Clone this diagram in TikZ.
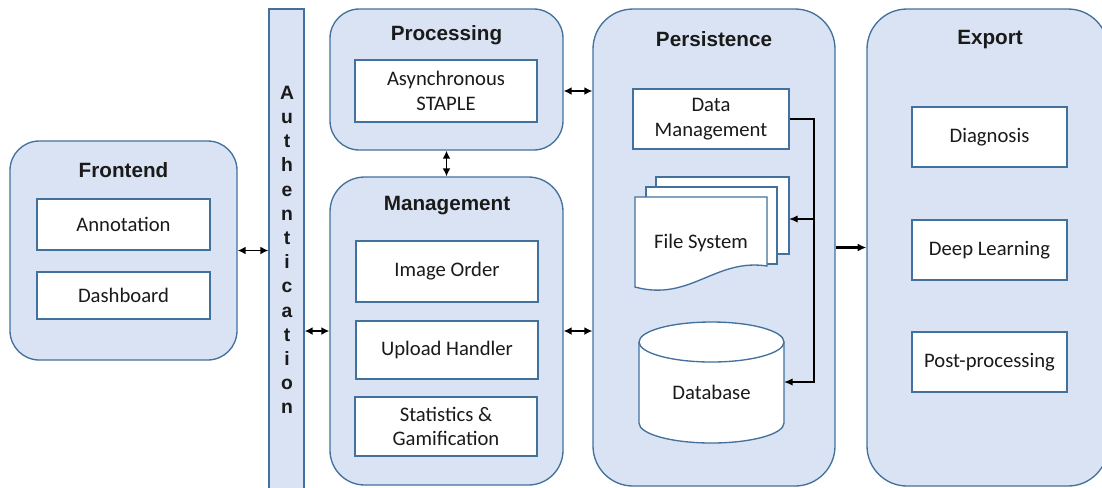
\documentclass[tikz,border=0pt]{standalone}
\usepackage{fontspec}
\setmainfont{Carlito}
\newfontfamily\titlefont{Liberation Sans}
\usetikzlibrary{arrows.meta,fit}
\definecolor{panelfill}{HTML}{DAE3F3}
\definecolor{edge}{HTML}{41719C}
\definecolor{ink}{HTML}{1A1A1A}
\begin{document}
\begin{tikzpicture}[x=0.75pt,y=-0.75pt,
 panel/.style={draw=edge, fill=panelfill, line width=1pt, inner sep=0pt},
 box/.style={draw=edge, fill=white, line width=1pt, inner sep=0pt, text=ink,
   font=\fontsize{15.5}{18.5}\selectfont, align=center},
 plain/.style={text=ink, font=\fontsize{15.5}{18.5}\selectfont, align=center},
 title/.style={text=ink, font=\titlefont\bfseries\fontsize{15.5}{18}\selectfont},
 link/.style={line width=1.3pt, {Latex[length=6pt,width=6pt]}-{Latex[length=6pt,width=6pt]}},
 push/.style={line width=1.7pt, -{Latex[length=6.5pt,width=6pt]}},
 feed/.style={line width=1pt, -{Latex[length=6.5pt,width=5.5pt]}}
]
\useasboundingbox (0,0) rectangle (1102,487);
\clip (0,0) rectangle (1102,487);

% containers
\node[panel, rounded corners=22pt, fit={(10,141) (237,360)}] (front) {};
\node[panel, fit={(269,9) (304,495)}] (auth) {};
\node[panel, rounded corners=22pt, fit={(330,9) (563,150)}] (proc) {};
\node[panel, rounded corners=26pt, fit={(330,177) (563,485)}] (mgmt) {};
\node[panel, rounded corners=30pt, fit={(593,9) (835,486)}] (persist) {};
\node[panel, rounded corners=30pt, fit={(867,9) (1108,486)}] (export) {};

% titles
\node[title] (tfront) at (123.5,170) {Frontend};
\node[title] (tproc) at (446.5,35) {Processing};
\node[title] (tmgmt) at (447,206) {Management};
\node[title] (tpersist) at (714,39) {Persistence};
\node[title] (texport) at (990,40) {Export};
\node[text=ink, font=\titlefont\bfseries\fontsize{14.5}{18.15}\selectfont, align=center]
  (authtext) at (287,250) {A\\u\\t\\h\\e\\n\\t\\i\\c\\a\\t\\i\\o\\n};

% inner boxes
\node[box, minimum width=173*0.75pt, minimum height=51*0.75pt] (annot) at (123.5,224.5) {Annotation};
\node[box, minimum width=173*0.75pt, minimum height=47*0.75pt] (dash) at (123.5,295.5) {Dashboard};
\node[box, minimum width=182*0.75pt, minimum height=62*0.75pt] (staple) at (446,91) {Asynchronous\\STAPLE};
\node[box, minimum width=182*0.75pt, minimum height=61*0.75pt] (order) at (447,271.5) {Image Order};
\node[box, minimum width=182*0.75pt, minimum height=58*0.75pt] (upload) at (447,350) {Upload Handler};
\node[box, minimum width=182*0.75pt, minimum height=59*0.75pt] (stats) at (446,426.5) {Statistics \&\\Gamification};
\node[box, minimum width=156*0.75pt, minimum height=60*0.75pt] (dm) at (711,119) {Data\\Management};
\node[box, minimum width=155*0.75pt, minimum height=60*0.75pt] (diag) at (989.5,137) {Diagnosis};
\node[box, minimum width=155*0.75pt, minimum height=60*0.75pt] (deep) at (989.5,250) {Deep Learning};
\node[box, minimum width=155*0.75pt, minimum height=60*0.75pt] (post) at (989.5,362) {Post-processing};

% file system stack
\node[draw=edge, fill=white, line width=1pt, inner sep=0pt, minimum width=133*0.75pt, minimum height=77*0.75pt] (fsback) at (722.5,215.5) {};
\node[draw=edge, fill=white, line width=1pt, inner sep=0pt, minimum width=131*0.75pt, minimum height=77*0.75pt] (fsmid) at (711.5,225.5) {};
\draw[draw=edge, fill=white, line width=1pt] (635,197) -- (767,197) -- (767,266)
  .. controls (715,258) and (690,302) .. (635,287) -- cycle;
\node[plain] (fs) at (701,243) {File System};
\coordinate (fsE) at (789,219);

% database cylinder
\draw[draw=edge, fill=white, line width=1pt] (639,342) -- (639,423)
  arc[start angle=180, end angle=0, x radius=72.5, y radius=20] -- (784,342);
\draw[draw=edge, fill=white, line width=1pt] (711.5,342) ellipse[x radius=72.5, y radius=20];
\node[plain] (db) at (711.5,392) {Database};
\coordinate (dbE) at (784,382);

% connectors
\draw[link] (front.east) -- (auth.west |- front.east);
\draw[link] (auth.east |- mgmt.west) -- (mgmt.west);
\draw[link] (proc.south) -- (mgmt.north);
\draw[link] (proc.east |- staple.east) -- (persist.west |- staple.east);
\draw[link] (mgmt.east) -- (persist.west |- mgmt.east);
\draw[push] (persist.east) -- (export.west |- persist.east);

\coordinate (bus) at (814,119);
\draw[feed] (dm.east) -- (bus) -- (bus |- dbE) -- (dbE);
\draw[feed] (bus |- fsE) -- (fsE);
\end{tikzpicture}
\end{document}
